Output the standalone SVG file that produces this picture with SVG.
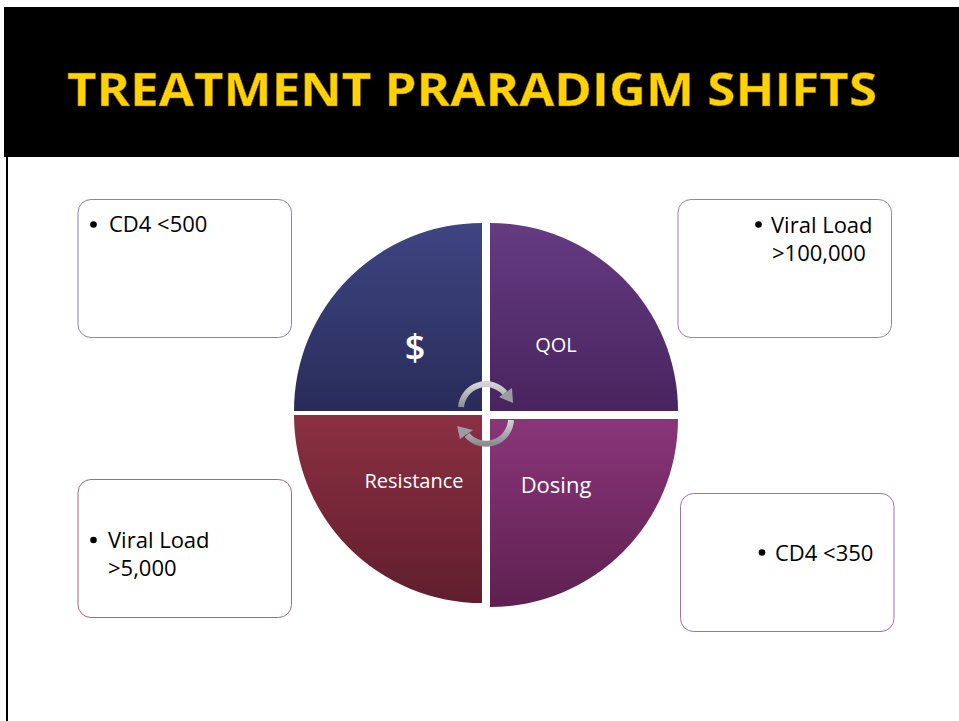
<svg xmlns="http://www.w3.org/2000/svg" width="959" height="721" viewBox="0 0 959 721">
  <defs>
    <linearGradient id="gTL" x1="0" y1="0" x2="0" y2="1">
      <stop offset="0" stop-color="#3e4582"/>
      <stop offset="1" stop-color="#292c59"/>
    </linearGradient>
    <linearGradient id="gTR" x1="0" y1="0" x2="0" y2="1">
      <stop offset="0" stop-color="#653b82"/>
      <stop offset="1" stop-color="#48245e"/>
    </linearGradient>
    <linearGradient id="gBL" x1="0" y1="0" x2="0" y2="1">
      <stop offset="0" stop-color="#8b3042"/>
      <stop offset="1" stop-color="#611e2e"/>
    </linearGradient>
    <linearGradient id="gBR" x1="0" y1="0" x2="0" y2="1">
      <stop offset="0" stop-color="#8a3579"/>
      <stop offset="1" stop-color="#5e2050"/>
    </linearGradient>
    <linearGradient id="gArrow" x1="0" y1="0" x2="0" y2="1">
      <stop offset="0" stop-color="#d4d4d8"/>
      <stop offset="1" stop-color="#8c8c94"/>
    </linearGradient>
  </defs>
  <style>
    .title { font-family: "Open Sans", "Liberation Sans", sans-serif; font-weight: bold; font-size: 46px; fill: #ffd200; stroke: #7a5a00; stroke-width: 0.5px; }
    .seg { font-family: "Open Sans", "Liberation Sans", sans-serif; fill: #ffffff; }
    .box { fill: #ffffff; stroke-width: 1px; }
    .txt { font-family: "Open Sans", "Liberation Sans", sans-serif; font-size: 22px; fill: #000000; }
    .dot { fill: #000000; }
    .arc { fill: none; stroke: url(#gArrow); stroke-width: 6px; }
    .head { fill: #9c9ca4; }
  </style>

  <!-- page background -->
  <rect x="0" y="0" width="959" height="721" fill="#ffffff"/>
  <!-- header band and left rule -->
  <rect x="4" y="7" width="955" height="150" fill="#000000"/>
  <rect x="6" y="157" width="2" height="564" fill="#000000"/>
  <text class="title" x="67" y="106" textLength="810" lengthAdjust="spacingAndGlyphs">TREATMENT PRARADIGM SHIFTS</text>

  <!-- four-part cycle -->
  <g id="seg-cost">
    <path d="M482,411 L294,411 A188,188 0 0 1 482,223 Z" fill="url(#gTL)"/>
    <text class="seg" x="415" y="360" font-size="36" font-weight="600" text-anchor="middle">$</text>
  </g>
  <g id="seg-qol">
    <path d="M490,411 L490,223 A188,188 0 0 1 678,411 Z" fill="url(#gTR)"/>
    <text class="seg" x="556" y="352" font-size="20" text-anchor="middle">QOL</text>
  </g>
  <g id="seg-resistance">
    <path d="M482,415 L482,603 A188,188 0 0 1 294,415 Z" fill="url(#gBL)"/>
    <text class="seg" x="414" y="488" font-size="20" text-anchor="middle">Resistance</text>
  </g>
  <g id="seg-dosing">
    <path d="M490,419 L678,419 A188,188 0 0 1 490,607 Z" fill="url(#gBR)"/>
    <text class="seg" x="556" y="493" font-size="22" text-anchor="middle">Dosing</text>
  </g>

  <!-- cycle arrows -->
  <g id="connectors">
    <path class="arc" d="M461,407 A25,25 0 0 1 505,393"/>
    <polygon class="head" points="512,388 499,397 513,403"/>
    <path class="arc" d="M511,420 A25,25 0 0 1 467,435"/>
    <polygon class="head" points="460,439 473,430 457,426"/>
  </g>

  <!-- side notes -->
  <g id="note-cd4-500">
    <rect class="box" x="78" y="199.5" width="213.5" height="138" rx="13" stroke="#8485b2"/>
    <circle class="dot" cx="93.5" cy="224.5" r="3.3"/>
    <text class="txt" x="109" y="232">CD4 &lt;500</text>
  </g>
  <g id="note-vl-100000">
    <rect class="box" x="678" y="199.5" width="213.5" height="138" rx="13" stroke="#9880b0"/>
    <circle class="dot" cx="758.5" cy="224.5" r="3.3"/>
    <text class="txt" x="771" y="233">Viral Load</text>
    <text class="txt" x="772" y="261">&gt;100,000</text>
  </g>
  <g id="note-vl-5000">
    <rect class="box" x="78" y="479.5" width="213.5" height="138" rx="13" stroke="#a26a7c"/>
    <circle class="dot" cx="93.5" cy="540" r="3.3"/>
    <text class="txt" x="108" y="548">Viral Load</text>
    <text class="txt" x="108" y="576">&gt;5,000</text>
  </g>
  <g id="note-cd4-350">
    <rect class="box" x="680.5" y="493.5" width="213.5" height="138" rx="13" stroke="#a272a4"/>
    <circle class="dot" cx="762" cy="552.5" r="3.3"/>
    <text class="txt" x="775" y="561">CD4 &lt;350</text>
  </g>
</svg>
